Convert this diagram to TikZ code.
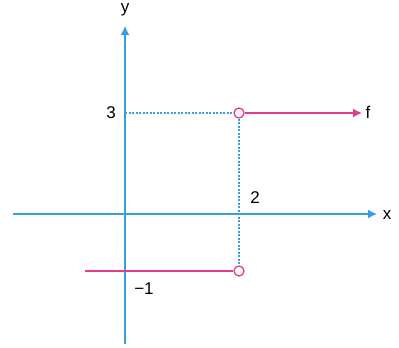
\documentclass[tikz,border=0pt]{standalone}
\usepackage{fontspec}
\setmainfont{Liberation Sans}
\usetikzlibrary{arrows.meta}
\definecolor{axblue}{RGB}{55,160,220}
\definecolor{fpink}{RGB}{230,60,140}
\tikzset{
  axis/.style={draw=axblue, line width=1.4pt, -{Latex[length=9pt,width=9pt]}},
  guide/.style={draw=axblue, line width=1.2pt, dash pattern=on 2pt off 1.5pt},
  graph/.style={draw=fpink, line width=1.4pt},
  hole/.style={circle, draw=fpink, fill=white, line width=1.3pt, minimum size=10pt, inner sep=0pt},
  lbl/.style={font=\fontsize{17}{20}\selectfont, inner sep=0pt, text=black}
}
\begin{document}
\begin{tikzpicture}[x=1pt,y=-1pt]
\useasboundingbox (0,0) rectangle (399,348);
% axes
\coordinate (xs) at (13,214);
\coordinate (xe) at (377,214);
\coordinate (ys) at (125,344);
\coordinate (ye) at (125,26);
\draw[axis] (xs) -- (xe);
\draw[axis] (ys) -- (ye);
\node[lbl] (xl) at (387,215) {x};
\node[lbl] (yl) at (125,10) {y};
% holes
\node[hole] (h1) at (239,113) {};
\node[hole] (h2) at (239,271) {};
\coordinate (y3) at (125,113);
\draw[guide] (y3) -- (h1.west);
\draw[guide] (h1.south) -- (h2.north);
% graph pieces
\coordinate (fe) at (362,113);
\coordinate (ls) at (85,271);
\draw[graph, -{Latex[length=9pt,width=9pt]}] (h1.east) -- (fe);
\draw[graph] (ls) -- (h2.west);
% labels
\node[lbl] (f) at (368,112) {f};
\node[lbl] (l3) at (111,113) {3};
\node[lbl] (l2) at (255,198) {2};
\node[lbl] (lm1) at (144,289) {\char"2212 1};
\end{tikzpicture}
\end{document}
